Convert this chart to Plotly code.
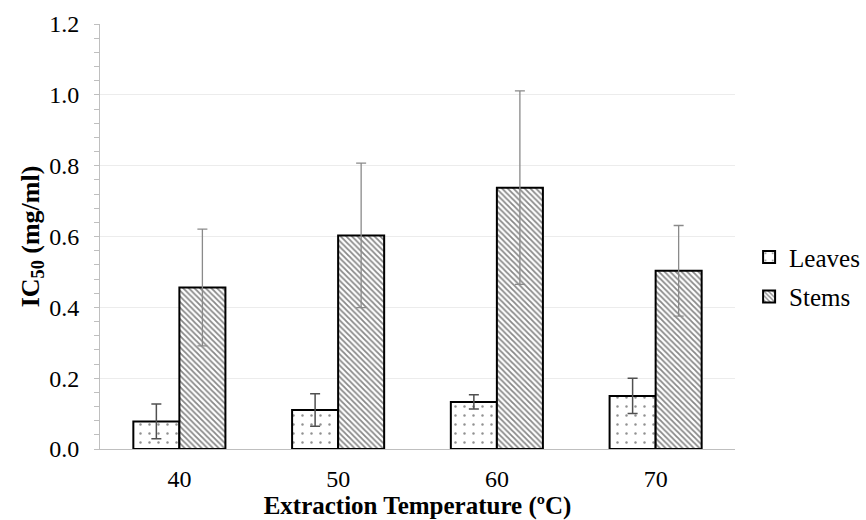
import plotly.graph_objects as go

temperatures = ["40", "50", "60", "70"]
leaves_ic50 = [0.078, 0.110, 0.133, 0.150]
leaves_err = [0.049, 0.046, 0.020, 0.050]
stems_ic50 = [0.456, 0.603, 0.738, 0.503]
stems_err = [0.165, 0.204, 0.273, 0.128]

FONT = "Times New Roman"

fig = go.Figure()
fig.add_trace(go.Bar(
    name="Leaves", x=temperatures, y=leaves_ic50,
    marker=dict(color="white", line=dict(color="black", width=2),
                pattern=dict(shape=".", fgcolor="#222222", bgcolor="white",
                             size=9, solidity=0.06, fillmode="overlay")),
    error_y=dict(type="data", array=leaves_err, visible=True,
                 color="#505050", thickness=1.5, width=5),
    legendgroup="a",
))
fig.add_trace(go.Bar(
    name="Stems", x=temperatures, y=stems_ic50,
    marker=dict(color="white", line=dict(color="black", width=2),
                pattern=dict(shape="\\", fgcolor="#111111", bgcolor="white",
                             size=4, solidity=0.45, fillmode="overlay")),
    error_y=dict(type="data", array=stems_err, visible=True,
                 color="#8a8a8a", thickness=1.3, width=5),
    legendgroup="b",
))

fig.update_layout(
    width=866, height=520,
    margin=dict(l=100, r=131, t=24, b=71),
    paper_bgcolor="white", plot_bgcolor="white",
    barmode="group", bargap=0.42, bargroupgap=0,
    font=dict(family=FONT, size=24, color="black"),
    showlegend=True,
    legend=dict(xref="container", yref="container", x=0.865, y=0.468,
                xanchor="left", yanchor="middle",
                font=dict(family=FONT, size=25, color="black"),
                tracegroupgap=4, itemwidth=30),
)
fig.update_xaxes(
    automargin=False,
    showline=True, linecolor="#bfbfbf", linewidth=1,
    ticks="", showgrid=False,
    ticklabelstandoff=8,
    tickfont=dict(family=FONT, size=24),
    title=dict(text="<b>Extraction Temperature (ºC)</b>",
               font=dict(family=FONT, size=25), standoff=4),
)
fig.update_yaxes(
    automargin=False,
    range=[0, 1.2], dtick=0.2, tickformat=".1f",
    showline=True, linecolor="#bfbfbf", linewidth=1,
    ticks="outside", ticklen=5, tickcolor="#bfbfbf",
    minor=dict(dtick=0.04, ticks="outside", ticklen=5, tickcolor="#bfbfbf", showgrid=False),
    showgrid=True, gridcolor="#ececec", gridwidth=1,
    zeroline=False,
    ticklabelstandoff=10,
    tickfont=dict(family=FONT, size=24),
    title=dict(text="<b>IC<sub>50</sub> (mg/ml)</b>",
               font=dict(family=FONT, size=26), standoff=2),
)

fig.write_html("out.html", config={"displayModeBar": False},
               post_script="document.body.style.margin='0';")
